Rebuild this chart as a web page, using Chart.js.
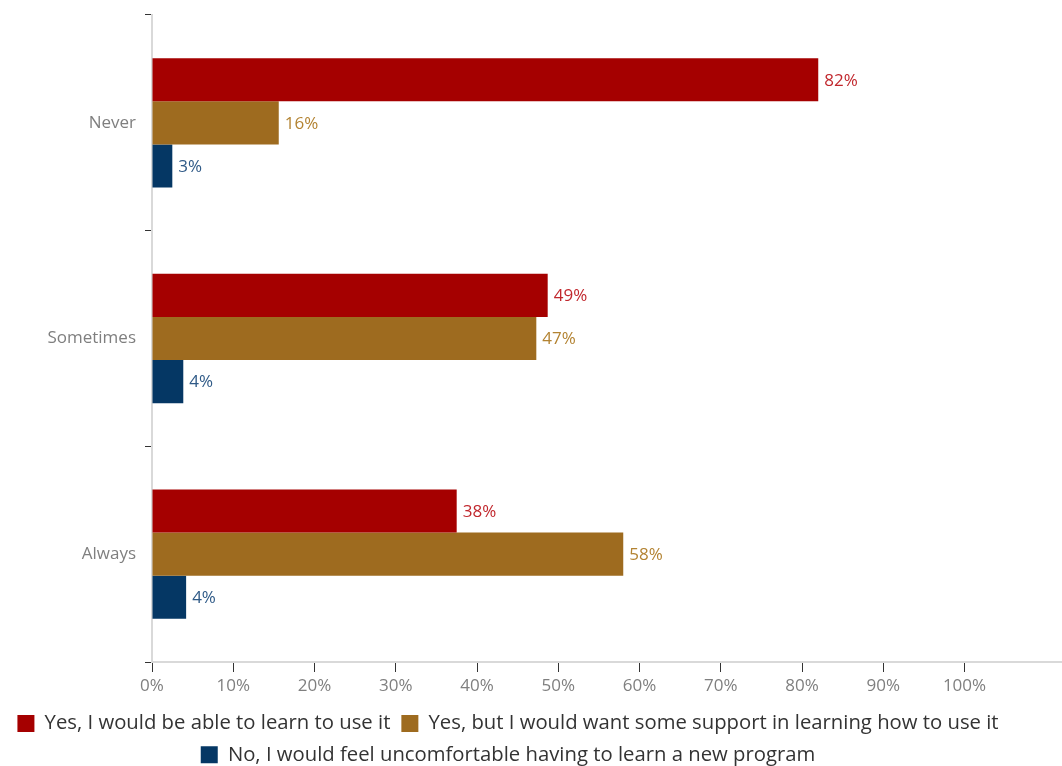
<!DOCTYPE html>
<html>
<head>
<meta charset="utf-8">
<script src="https://cdn.jsdelivr.net/npm/chart.js@4/dist/chart.umd.min.js"></script>
<style>
html,body{margin:0;padding:0;background:#fff;}
#wrap{width:1062px;height:766px;position:relative;}
</style>
</head>
<body>
<div id="wrap"><canvas id="c"></canvas></div>
<script>
const categories = ["Never", "Sometimes", "Always"];
const seriesNames = [
  "Yes, I would be able to learn to use it",
  "Yes, but I would want some support in learning how to use it",
  "No, I would feel uncomfortable having to learn a new program"
];
// values; labels show rounded percentages
const ableValues = [82.0, 48.7, 37.5];
const supportValues = [15.6, 47.3, 58.0];
const uncomfortableValues = [2.5, 3.85, 4.2];
const xTickValues = [0, 10, 20, 30, 40, 50, 60, 70, 80, 90, 100];

const colors = ["#a50000", "#9e6b1f", "#053764"];
const labelColors = ["#c1272d", "#b38332", "#2f5a87"];
const FONT = "'Open Sans', Lato, sans-serif";

const labelPlugin = {
  id: "barLabels",
  afterDatasetsDraw(chart) {
    const ctx = chart.ctx;
    ctx.save();
    ctx.font = "17px " + FONT;
    ctx.textBaseline = "middle";
    ctx.textAlign = "left";
    chart.data.datasets.forEach((ds, i) => {
      const meta = chart.getDatasetMeta(i);
      meta.data.forEach((bar, j) => {
        ctx.fillStyle = labelColors[i];
        ctx.fillText(Math.round(ds.data[j]) + "%", bar.x + 6, bar.y + 1);
      });
    });
    ctx.restore();
  }
};

const legendShift = {
  id: "legendShift",
  afterLayout(chart) {
    const lg = chart.legend;
    if (lg) { lg.left -= 23; lg.right -= 23; }
  }
};

new Chart(document.getElementById("c"), {
  type: "bar",
  data: {
    labels: categories,
    datasets: [
      { label: seriesNames[0], data: ableValues, backgroundColor: colors[0] },
      { label: seriesNames[1], data: supportValues, backgroundColor: colors[1] },
      { label: seriesNames[2], data: uncomfortableValues, backgroundColor: colors[2] }
    ]
  },
  options: {
    indexAxis: "y",
    responsive: true,
    maintainAspectRatio: false,
    animation: false,
    categoryPercentage: 0.6,
    barPercentage: 1.0,
    layout: { padding: { top: 15, left: 0, right: 0, bottom: -9 } },
    plugins: {
      legend: {
        position: "bottom",
        labels: {
          font: { size: 20.3, family: FONT },
          color: "#333333",
          boxWidth: 17,
          boxHeight: 17,
          padding: 11
        }
      },
      tooltip: { enabled: false }
    },
    scales: {
      x: {
        min: 0,
        max: 112,
        afterBuildTicks(axis) {
          axis.ticks = xTickValues.map(v => ({ value: v }));
        },
        afterFit(axis) { axis.height += 2; },
        ticks: {
          callback: v => v + "%",
          font: { size: 17, family: FONT },
          color: "#7f7f7f",
          padding: 4,
          maxRotation: 0
        },
        grid: { drawOnChartArea: false, drawTicks: true, tickLength: 10, color: "#333333" },
        border: { color: "#d9d9d9", width: 2 }
      },
      y: {
        afterFit(axis) { axis.width = 152; axis.paddingTop = 0; axis.paddingBottom = 0; },
        ticks: {
          font: { size: 17, family: FONT },
          color: "#7f7f7f",
          padding: 9
        },
        grid: { drawOnChartArea: false, drawTicks: true, tickLength: 7, color: "#333333", offset: true },
        border: { color: "#d9d9d9", width: 2 }
      }
    }
  },
  plugins: [labelPlugin, legendShift]
});
</script>
</body>
</html>
